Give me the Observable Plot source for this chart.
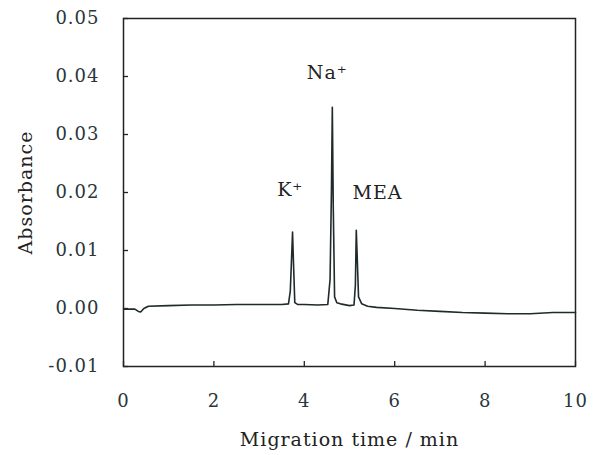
<!DOCTYPE html>
<html>
<head>
<meta charset="utf-8">
<script src="https://cdn.jsdelivr.net/npm/d3@7"></script>
<script src="https://cdn.jsdelivr.net/npm/@observablehq/plot@0.6"></script>
<style>
  html, body { margin: 0; padding: 0; background: #fff; }
  #chart svg { display: block; }
  #chart svg text { letter-spacing: 1px; }
</style>
</head>
<body>
<div id="chart"></div>
<script>
// Electropherogram trace (migration time in min, absorbance)
const time = [0, 0.25, 0.33, 0.38, 0.45, 0.55, 1.0, 1.5, 2.0, 2.5, 3.0, 3.5, 3.65, 3.69, 3.72, 3.74, 3.76, 3.79, 3.85, 4.0, 4.3, 4.52, 4.57, 4.60, 4.62, 4.64, 4.67, 4.72, 4.8, 5.0, 5.10, 5.13, 5.15, 5.17, 5.20, 5.27, 5.4, 5.6, 6.0, 6.5, 7.0, 7.5, 8.0, 8.5, 9.0, 9.5, 10.0];
const absorbance = [-0.0001, -0.0001, -0.0005, -0.0006, 0.0000, 0.0004, 0.0005, 0.0006, 0.0006, 0.0007, 0.0007, 0.0007, 0.0008, 0.0030, 0.0090, 0.0132, 0.0080, 0.0010, 0.0007, 0.0007, 0.0006, 0.0007, 0.0050, 0.0200, 0.0347, 0.0180, 0.0020, 0.0010, 0.0008, 0.0005, 0.0006, 0.0040, 0.0135, 0.0090, 0.0020, 0.0008, 0.0004, 0.0002, 0.0000, -0.0003, -0.0005, -0.0007, -0.0008, -0.0009, -0.0009, -0.0007, -0.0007];

// Peak labels
const peakLabels = ["K\u207A", "Na\u207A", "MEA"];
const peakLabelX = [3.69, 4.51, 5.62];
const peakLabelY = [0.0204, 0.0406, 0.0199];

// Axis ticks
const xTicks = [0, 2, 4, 6, 8, 10];
const yTicks = [-0.01, 0.00, 0.01, 0.02, 0.03, 0.04, 0.05];

const trace = time.map((t, i) => ({t, a: absorbance[i]}));
const labels = peakLabels.map((s, i) => ({s, x: peakLabelX[i], y: peakLabelY[i]}));

const font = "'DejaVu Serif', 'Liberation Serif', serif";
const textColor = "#2a363b";

const chart = Plot.plot({
  width: 593,
  height: 455,
  marginLeft: 123,
  marginRight: 18,
  marginTop: 18,
  marginBottom: 89,
  style: {fontFamily: font, fontSize: "18px", color: textColor, background: "#fff"},
  x: {domain: [0, 10]},
  y: {domain: [-0.01, 0.05]},
  marks: [
    Plot.frame({stroke: "#222", strokeWidth: 1.5}),
    Plot.axisX({ticks: xTicks, tickSize: -5, tickPadding: 33, tickFormat: d => String(d), label: null, stroke: "#222", strokeWidth: 1.3}),
    Plot.axisY({ticks: yTicks, tickSize: -5, tickPadding: 29, tickFormat: d => d.toFixed(2), label: null, stroke: "#222", strokeWidth: 1.3}),
    Plot.text(["Migration time / min"], {frameAnchor: "bottom", dy: 79, fontSize: 19, fill: "#222"}),
    Plot.text(["Absorbance"], {frameAnchor: "left", textAnchor: "middle", dx: -98, rotate: -90, fontSize: 19, fill: "#222"}),
    Plot.line(trace, {x: "t", y: "a", stroke: "#1f2a2a", strokeWidth: 1.6, curve: "linear"}),
    Plot.text(labels, {x: "x", y: "y", text: "s", fontSize: 19, fill: "#222"})
  ]
});
document.getElementById("chart").appendChild(chart);
</script>
</body>
</html>
